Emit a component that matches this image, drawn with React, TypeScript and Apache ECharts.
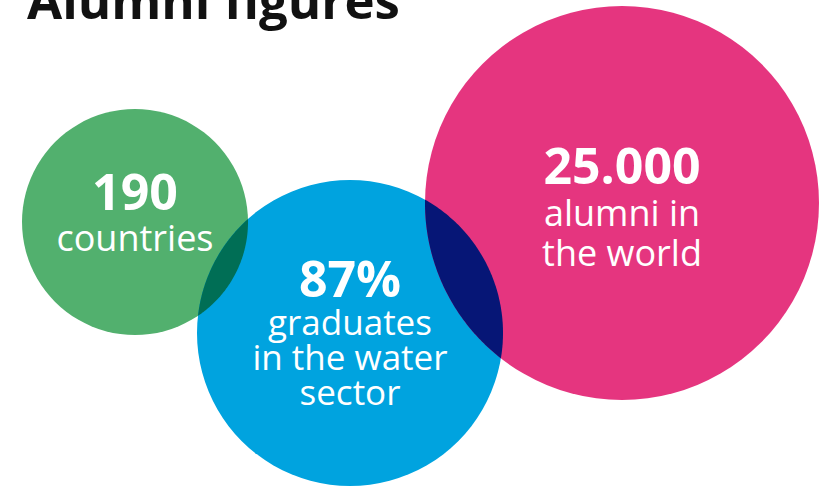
import React, { useEffect, useRef } from "react";
import * as echarts from "echarts";

const titleText = "Alumni figures";
const figures = ["190", "87%", "25.000"];
const captions = [["countries"], ["graduates", "in the water", "sector"], ["alumni in", "the world"]];
const colors = ["#52b06e", "#00a3df", "#e5357f"];
// bubble layout (centre x, centre y, radius) in chart units
const bubbleX = [135, 350, 622];
const bubbleY = [222, 333, 203];
const bubbleR = [113, 153, 197];
// overlapping pairs and the colour of their overlap
const overlapPairs = [[0, 1], [1, 2]];
const overlapColors = ["#006e55", "#061676"];
const labelShift = [[0, -13], [0, -3], [0, 2]];
const numLineHeights = [56, 52, 54];
const captionLineHeights = [36, 35, 40];
const captionSizes = [36, 35, 36];

const FONT = "'Open Sans', sans-serif";

export default function App() {
  const ref = useRef<HTMLDivElement>(null);
  useEffect(() => {
    if (!ref.current) return;
    const chart = echarts.init(ref.current, null, { renderer: "svg" });
    const circleData = figures.map((f, i) => ({
      value: [bubbleX[i], bubbleY[i]],
      symbolSize: bubbleR[i] * 2,
      itemStyle: { color: colors[i], opacity: 1 },
    }));
    const labelData = figures.map((f, i) => ({
      value: [bubbleX[i], bubbleY[i]],
      symbolSize: bubbleR[i] * 2,
      label: {
        offset: labelShift[i],
        formatter:
          "{num" + i + "|" + f + "}\n" + captions[i].map((c) => "{cap" + i + "|" + c + "}").join("\n"),
      },
    }));
    const rich: any = {};
    captions.forEach((_, i) => {
      rich["num" + i] = { fontSize: 50, fontWeight: "bold", color: "#fff", lineHeight: numLineHeights[i], fontFamily: FONT };
      rich["cap" + i] = { fontSize: captionSizes[i], color: "#fff", lineHeight: captionLineHeights[i], fontFamily: FONT };
    });
    const lensData = overlapPairs.map(([a, b], k) => ({
      value: [bubbleX[a], bubbleY[a], bubbleR[a], bubbleX[b], bubbleY[b], bubbleR[b]],
      itemStyle: { color: overlapColors[k], opacity: 1 },
    }));
    const renderLens = (params: any, api: any) => {
      const ca = api.coord([api.value(0), api.value(1)]);
      const cb = api.coord([api.value(3), api.value(4)]);
      const o = api.coord([0, 0]);
      const ra = Math.abs(api.coord([api.value(2), 0])[0] - o[0]);
      const rb = Math.abs(api.coord([api.value(5), 0])[0] - o[0]);
      const dx = cb[0] - ca[0];
      const dy = cb[1] - ca[1];
      const d = Math.sqrt(dx * dx + dy * dy);
      const th = Math.atan2(dy, dx);
      const x1 = (d * d + ra * ra - rb * rb) / (2 * d);
      const x2 = d - x1;
      const al = Math.acos(Math.max(-1, Math.min(1, x1 / ra)));
      const be = Math.acos(Math.max(-1, Math.min(1, x2 / rb)));
      const pts: number[][] = [];
      const N = 80;
      for (let k = 0; k <= N; k++) {
        const t = th - al + (2 * al * k) / N;
        pts.push([ca[0] + ra * Math.cos(t), ca[1] + ra * Math.sin(t)]);
      }
      for (let k = 0; k <= N; k++) {
        const t = th + Math.PI - be + (2 * be * k) / N;
        pts.push([cb[0] + rb * Math.cos(t), cb[1] + rb * Math.sin(t)]);
      }
      return {
        type: "polygon",
        shape: { points: pts },
        style: { fill: api.visual("color"), opacity: 1 },
      };
    };
    chart.setOption({
      animation: false,
      backgroundColor: "#ffffff",
      grid: { left: 0, right: 0, top: 0, bottom: 0 },
      xAxis: { type: "value", min: 0, max: 826, show: false },
      yAxis: { type: "value", min: 0, max: 486, inverse: true, show: false },
      graphic: [
        {
          type: "text",
          left: 27,
          top: -27,
          style: { text: titleText, fontSize: 51, fontWeight: "bold", fill: "#111111", fontFamily: FONT },
        },
      ],
      series: [
        {
          type: "scatter",
          symbol: "circle",
          z: 1,
          emphasis: { disabled: true },
          silent: true,
          itemStyle: { opacity: 1 },
          data: circleData,
        },
        {
          type: "custom",
          z: 2,
          silent: true,
          renderItem: renderLens,
          data: lensData,
        },
        {
          type: "scatter",
          symbol: "circle",
          z: 3,
          silent: true,
          itemStyle: { color: "rgba(0,0,0,0)", opacity: 1 },
          label: { show: true, position: "inside", color: "#fff", rich, align: "center" },
          emphasis: { disabled: true },
          data: labelData,
        },
      ],
    });
    return () => chart.dispose();
  }, []);
  return <div ref={ref} style={{ position: "absolute", left: 0, top: 0, width: 826, height: 486 }} />;
}
